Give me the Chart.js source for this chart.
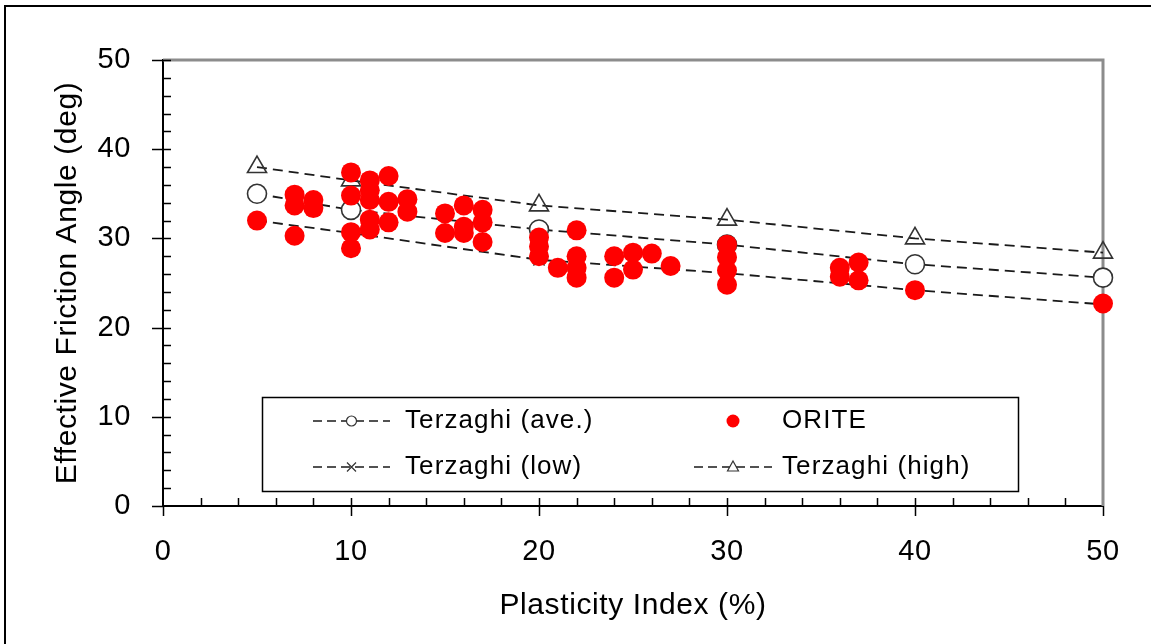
<!DOCTYPE html>
<html>
<head>
<meta charset="utf-8">
<script src="https://cdn.jsdelivr.net/npm/chart.js@4.4.1/dist/chart.umd.min.js"></script>
<style>
  html, body { margin: 0; padding: 0; background: #ffffff; }
  #wrap { width: 1151px; height: 644px; position: relative; }
</style>
</head>
<body>
<div id="wrap"><canvas id="chart" width="1151" height="644"></canvas></div>
<script>
// Terzaghi correlation curves: friction angle vs plasticity index
const piLevels     = [5, 10, 20, 30, 40, 50];
const terzaghiAve  = [35.0, 33.2, 31.0, 29.3, 27.1, 25.6];
const terzaghiLow  = [32.0, 30.6, 27.6, 26.1, 24.2, 22.6];
const terzaghiHigh = [38.0, 36.5, 33.7, 32.1, 30.0, 28.4];

// ORITE test results
const oritePI = [
  5,
  7, 7, 7,
  8, 8,
  10, 10, 10, 10,
  11, 11, 11, 11, 11,
  12, 12, 12,
  13, 13,
  15, 15,
  16, 16, 16,
  17, 17, 17,
  20, 20, 20,
  21,
  22, 22, 22, 22,
  24, 24,
  25, 25,
  26,
  27,
  30, 30, 30, 30,
  36, 36,
  37, 37,
  40,
  50
];
const oriteAngle = [
  32.0,
  34.9, 33.7, 30.3,
  34.3, 33.4,
  37.4, 34.8, 30.7, 28.9,
  36.5, 35.4, 34.3, 32.1, 31.0,
  37.0, 34.1, 31.8,
  34.4, 33.0,
  32.8, 30.6,
  33.7, 31.3, 30.6,
  33.2, 31.8, 29.6,
  30.1, 29.1, 28.0,
  26.7,
  30.9, 28.0, 26.7, 25.6,
  28.0, 25.6,
  28.4, 26.5,
  28.3,
  26.9,
  29.3, 27.9, 26.4, 24.8,
  26.7, 25.7,
  27.3, 25.3,
  24.2,
  22.7
];

const xTickValues = [0, 10, 20, 30, 40, 50];
const yTickValues = [0, 10, 20, 30, 40, 50];

const FONT = "'Liberation Sans', Arial, Helvetica, sans-serif";
const LINE_DASH = [10, 6];

function toPoints(xs, ys) {
  return xs.map((x, i) => ({ x: x, y: ys[i] }));
}

// Outer frame, plot border, tick marks and the boxed legend
const framePlugin = {
  id: 'frame',
  beforeDraw(chart) {
    const ctx = chart.ctx;
    ctx.fillStyle = '#ffffff';
    ctx.fillRect(0, 0, chart.width, chart.height);
    ctx.strokeStyle = '#000000';
    ctx.lineWidth = 2;
    ctx.strokeRect(5, 6, chart.width + 50, chart.height + 50);
    // slightly looser text for axis labels and titles
    if ('letterSpacing' in ctx) ctx.letterSpacing = '0.6px';
  },
  beforeDatasetsDraw(chart) {
    const ctx = chart.ctx;
    const a = chart.chartArea;
    const xs = chart.scales.x, ys = chart.scales.y;
    ctx.save();
    // grey top and right border of the plot area
    ctx.strokeStyle = '#8c8c8c';
    ctx.lineWidth = 3;
    ctx.beginPath();
    ctx.moveTo(a.left, a.top);
    ctx.lineTo(a.right, a.top);
    ctx.lineTo(a.right, a.bottom);
    ctx.stroke();

    ctx.strokeStyle = '#000000';
    ctx.lineWidth = 1.5;
    ctx.beginPath();
    for (let v = 0; v <= 50; v += 2) {
      const px = Math.round(xs.getPixelForValue(v)) + 0.5;
      const major = v % 10 === 0;
      if (v > 0 && v < 50) {
        ctx.moveTo(px, a.bottom);
        ctx.lineTo(px, a.bottom - 8);
      }
      if (major) {
        ctx.moveTo(px, a.bottom);
        ctx.lineTo(px, a.bottom + 10);
      }
    }
    for (let v = 0; v <= 50; v += 2) {
      const py = Math.round(ys.getPixelForValue(v)) + 0.5;
      const major = v % 10 === 0;
      if (v > 0) {
        ctx.moveTo(a.left, py);
        ctx.lineTo(a.left + 8, py);
      }
      if (major) {
        ctx.moveTo(a.left, py);
        ctx.lineTo(a.left - 11, py);
      }
    }
    ctx.stroke();
    ctx.restore();
  },
  afterDraw(chart) {
    const ctx = chart.ctx;
    ctx.save();
    // legend box
    const bx = 262, by = 397, bw = 756, bh = 94;
    ctx.fillStyle = '#ffffff';
    ctx.fillRect(bx, by, bw, bh);
    ctx.strokeStyle = '#000000';
    ctx.lineWidth = 1.5;
    ctx.strokeRect(bx + 0.5, by + 0.5, bw, bh);

    const row1 = 421, row2 = 467;
    function sampleLine(x0, x1, y) {
      ctx.save();
      ctx.strokeStyle = '#1a1a1a';
      ctx.lineWidth = 1.4;
      ctx.setLineDash([9, 5]);
      ctx.beginPath();
      ctx.moveTo(x0, y);
      ctx.lineTo(x1, y);
      ctx.stroke();
      ctx.restore();
    }
    function label(text, x, y) {
      ctx.fillStyle = '#000000';
      ctx.font = '26px ' + FONT;
      if ('letterSpacing' in ctx) ctx.letterSpacing = '1.1px';
      ctx.textBaseline = 'middle';
      ctx.textAlign = 'left';
      ctx.fillText(text, x, y);
    }
    // Terzaghi (ave.)
    sampleLine(313, 390, row1);
    ctx.beginPath();
    ctx.arc(351.5, row1, 5, 0, Math.PI * 2);
    ctx.fillStyle = '#ffffff';
    ctx.fill();
    ctx.strokeStyle = '#333333';
    ctx.lineWidth = 1.2;
    ctx.stroke();
    label('Terzaghi (ave.)', 405, row1);

    // Terzaghi (low)
    sampleLine(313, 390, row2);
    ctx.beginPath();
    ctx.strokeStyle = '#333333';
    ctx.lineWidth = 1.2;
    ctx.moveTo(347, row2 - 4.5); ctx.lineTo(356, row2 + 4.5);
    ctx.moveTo(356, row2 - 4.5); ctx.lineTo(347, row2 + 4.5);
    ctx.stroke();
    label('Terzaghi (low)', 405, row2);

    // ORITE
    ctx.beginPath();
    ctx.arc(733, row1, 6.5, 0, Math.PI * 2);
    ctx.fillStyle = '#ff0000';
    ctx.fill();
    label('ORITE', 782, row1);

    // Terzaghi (high)
    sampleLine(694, 772, row2);
    ctx.beginPath();
    ctx.moveTo(733, row2 - 6);
    ctx.lineTo(738.5, row2 + 4);
    ctx.lineTo(727.5, row2 + 4);
    ctx.closePath();
    ctx.fillStyle = '#ffffff';
    ctx.fill();
    ctx.strokeStyle = '#333333';
    ctx.lineWidth = 1.2;
    ctx.stroke();
    label('Terzaghi (high)', 782, row2);
    ctx.restore();
  }
};

const curveStyle = {
  showLine: true,
  borderColor: '#1a1a1a',
  borderWidth: 1.8,
  borderDash: LINE_DASH,
  pointBorderColor: '#333333',
  pointBorderWidth: 1.6,
  clip: false,
  order: 1
};

new Chart(document.getElementById('chart'), {
  type: 'scatter',
  data: {
    datasets: [
      Object.assign({}, curveStyle, {
        label: 'Terzaghi (ave.)',
        data: toPoints(piLevels, terzaghiAve),
        pointStyle: 'circle',
        pointRadius: 9.5,
        pointBackgroundColor: '#ffffff'
      }),
      {
        label: 'ORITE',
        data: toPoints(oritePI, oriteAngle),
        pointStyle: 'circle',
        pointRadius: 10,
        pointBackgroundColor: '#ff0000',
        pointBorderColor: '#ff0000',
        pointBorderWidth: 0,
        showLine: false,
        clip: false,
        order: 0
      },
      Object.assign({}, curveStyle, {
        label: 'Terzaghi (low)',
        data: toPoints(piLevels, terzaghiLow),
        pointStyle: 'crossRot',
        pointRadius: 8,
        pointBackgroundColor: 'rgba(0,0,0,0)'
      }),
      Object.assign({}, curveStyle, {
        label: 'Terzaghi (high)',
        data: toPoints(piLevels, terzaghiHigh),
        pointStyle: 'triangle',
        pointRadius: 11,
        pointBackgroundColor: 'rgba(0,0,0,0)'
      })
    ]
  },
  options: {
    responsive: false,
    animation: false,
    devicePixelRatio: 1,
    layout: { padding: { left: 0, top: 60, right: 48, bottom: 0 } },
    plugins: {
      legend: { display: false },
      tooltip: { enabled: false }
    },
    scales: {
      x: {
        type: 'linear',
        min: 0,
        max: 50,
        afterBuildTicks(scale) {
          scale.ticks = xTickValues.map(v => ({ value: v }));
        },
        afterFit(scale) { scale.height = 138; },
        grid: { display: false, drawTicks: false },
        border: { display: true, color: '#000000', width: 2 },
        ticks: {
          padding: 29,
          color: '#000000',
          font: { family: FONT, size: 29 },
          maxRotation: 0
        },
        title: {
          display: true,
          text: 'Plasticity Index (%)',
          color: '#000000',
          font: { family: FONT, size: 30 },
          padding: { top: 0, bottom: 20 }
        }
      },
      y: {
        type: 'linear',
        min: 0,
        max: 50,
        afterBuildTicks(scale) {
          scale.ticks = yTickValues.map(v => ({ value: v }));
        },
        afterFit(scale) { scale.width = 163; },
        grid: { display: false, drawTicks: false },
        border: { display: true, color: '#000000', width: 2 },
        ticks: {
          padding: 32,
          color: '#000000',
          font: { family: FONT, size: 29 }
        },
        title: {
          display: true,
          text: 'Effective Friction Angle (deg)',
          color: '#000000',
          font: { family: FONT, size: 30 },
          padding: { top: 50, bottom: 0 }
        }
      }
    }
  },
  plugins: [framePlugin]
});
</script>
</body>
</html>
